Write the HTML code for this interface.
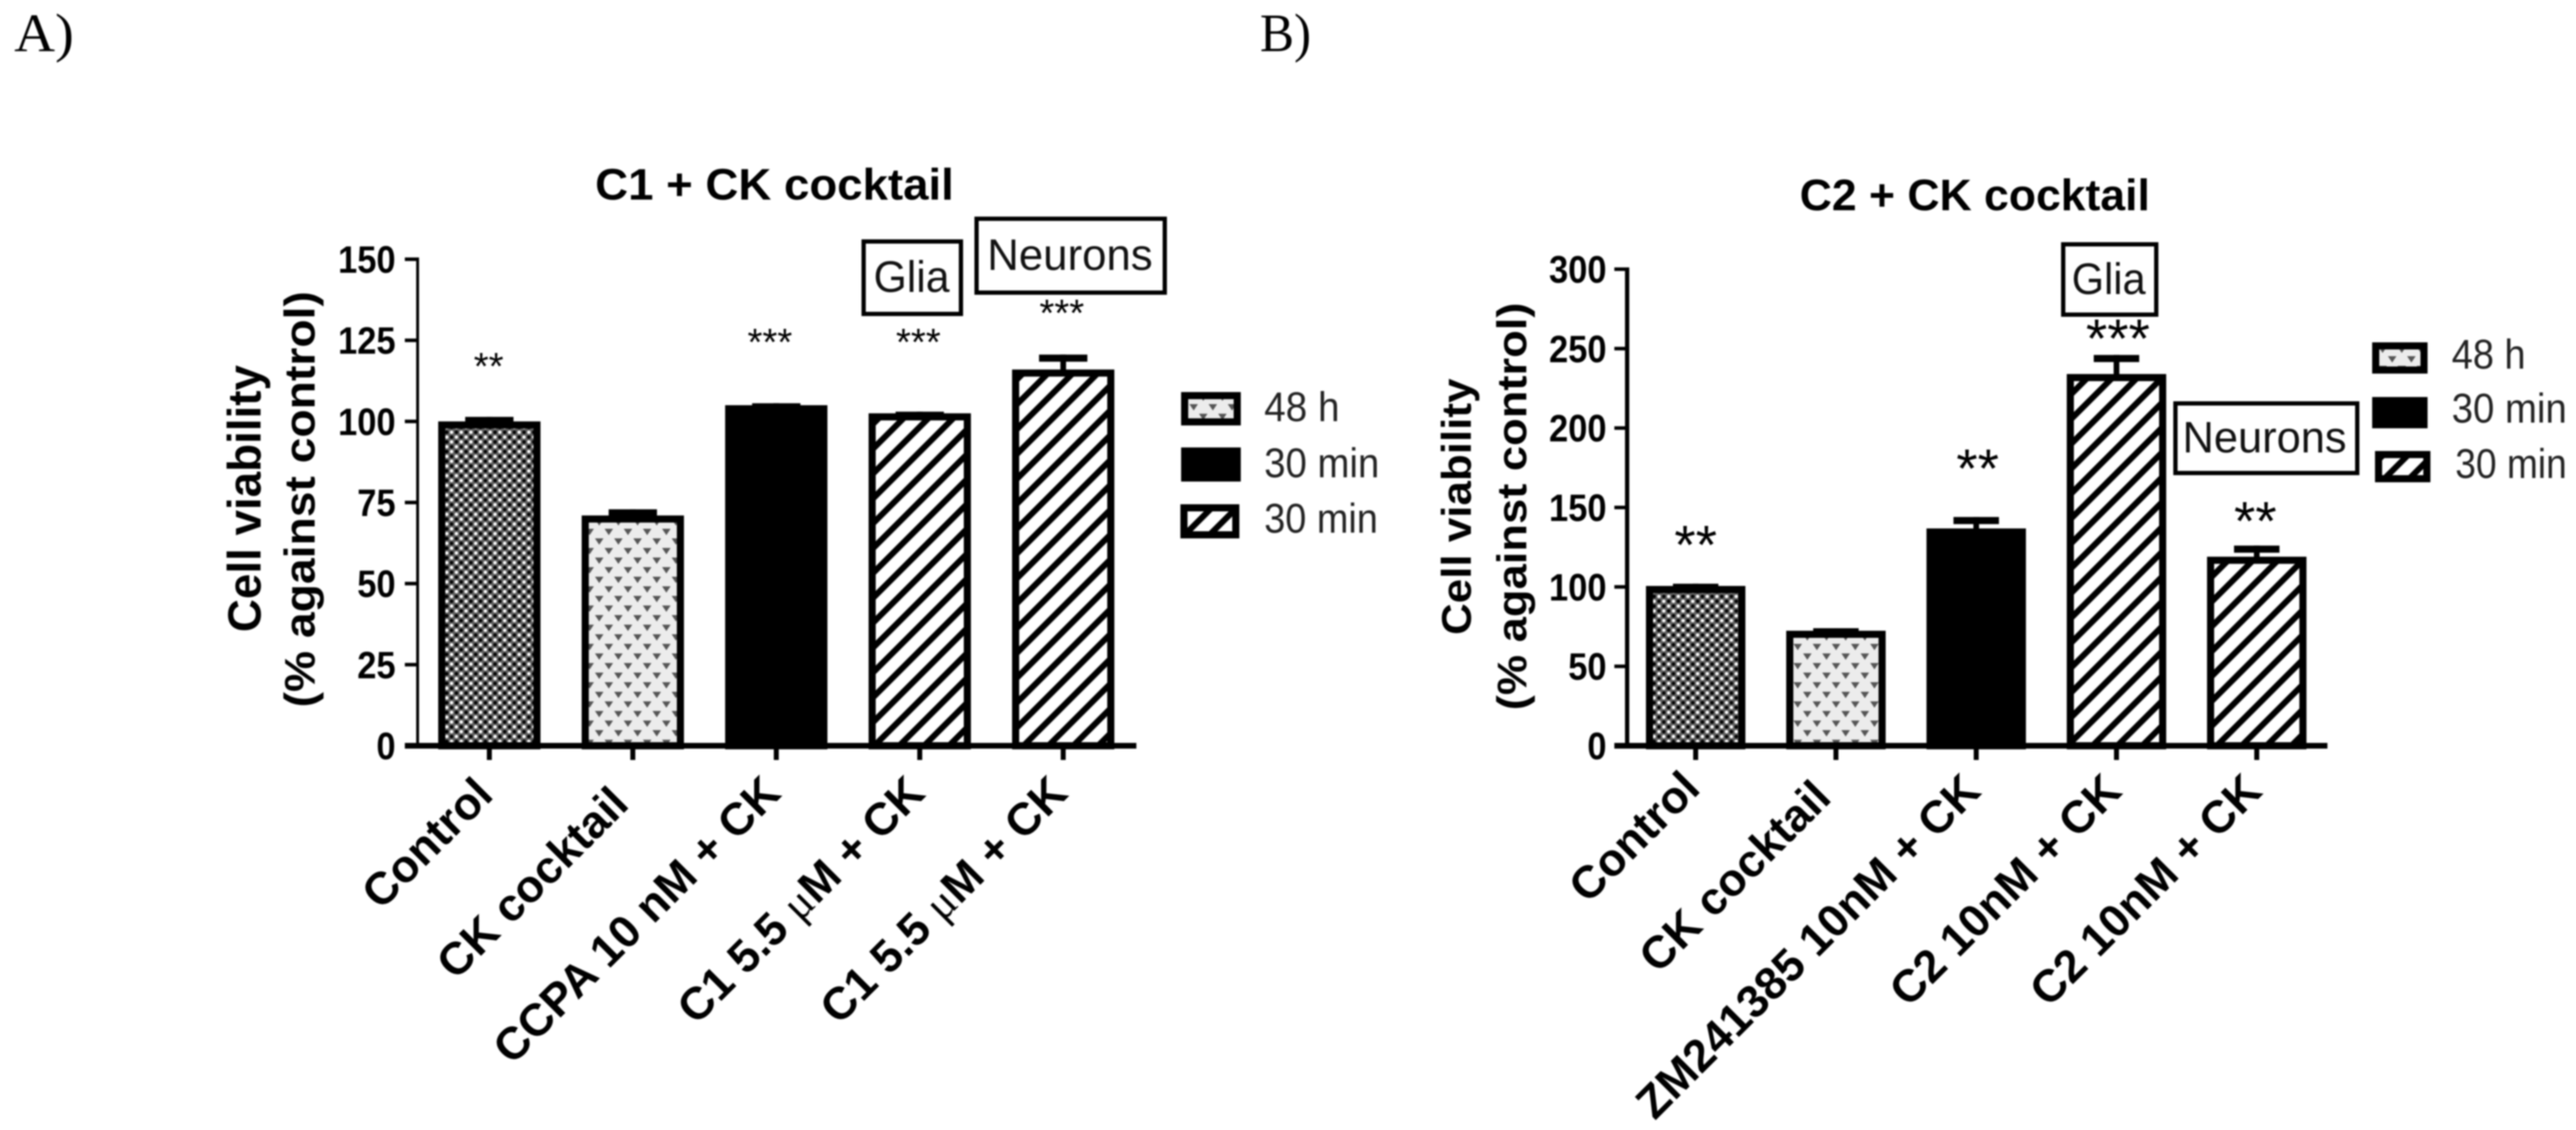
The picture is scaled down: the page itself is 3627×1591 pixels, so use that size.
<!DOCTYPE html>
<html lang="en">
<head>
<meta charset="utf-8">
<title>C1 and C2 + CK cocktail cell viability</title>
<style>
html,body{margin:0;padding:0;background:#fff;}
svg{display:block;filter:blur(1px);}
text{font-family:"Liberation Sans",Arial,sans-serif;fill:#000;}
.b{font-weight:bold;}
.serif{font-family:"Liberation Serif",serif;}
.leg{fill:#222;font-size:58px;}
.box{fill:#fff;stroke:#000;stroke-width:6;}
.boxt{fill:#111;font-size:62px;}
.swatch{stroke:#000;stroke-width:10;}
</style>
</head>
<body>
<svg id="figure" xmlns="http://www.w3.org/2000/svg" width="3627" height="1591" viewBox="0 0 3627 1591">
  <defs>
    <pattern id="dots" patternUnits="userSpaceOnUse" width="13.6" height="13.6">
      <rect width="13.6" height="13.6" fill="#606060"/>
      <circle cx="3.4" cy="3.4" r="2.4" fill="#fff"/>
      <circle cx="10.2" cy="10.2" r="2.4" fill="#fff"/>
      <circle cx="10.2" cy="3.4" r="2.5" fill="#000"/>
      <circle cx="3.4" cy="10.2" r="2.5" fill="#000"/>
    </pattern>
    <pattern id="hearts" patternUnits="userSpaceOnUse" width="27" height="27">
      <rect width="27" height="27" fill="#ececec"/>
      <path d="M0.7 2 L6.7 11 L12.7 2 Z" fill="#555"/>
      <path d="M14.2 15.5 L20.2 24.5 L26.2 15.5 Z" fill="#555"/>
    </pattern>
    <pattern id="stripes" patternUnits="userSpaceOnUse" width="24.75" height="24.75" patternTransform="rotate(45)">
      <rect width="24.75" height="24.75" fill="#fff"/>
      <rect width="8.5" height="24.75" fill="#000"/>
    </pattern>
  </defs>
  <rect width="3627" height="1591" fill="#fff"/>

  <text class="serif" x="20" y="72" font-size="76" textLength="84" lengthAdjust="spacingAndGlyphs">A)</text>
  <text class="serif" x="1774" y="72" font-size="76" textLength="72" lengthAdjust="spacingAndGlyphs">B)</text>

  <text class="b" x="838" y="281" font-size="62" textLength="505" lengthAdjust="spacingAndGlyphs">C1 + CK cocktail</text>
  <text class="b" x="2534" y="296" font-size="62" textLength="493" lengthAdjust="spacingAndGlyphs">C2 + CK cocktail</text>

  <text class="b" transform="translate(367 890) rotate(-90)" font-size="66" textLength="376" lengthAdjust="spacingAndGlyphs">Cell viability</text>
  <text class="b" transform="translate(443 996) rotate(-90)" font-size="60" textLength="586" lengthAdjust="spacingAndGlyphs">(% against control)</text>
  <text class="b" transform="translate(2071 894) rotate(-90)" font-size="58" textLength="361" lengthAdjust="spacingAndGlyphs">Cell viability</text>
  <text class="b" transform="translate(2149 1000) rotate(-90)" font-size="58" textLength="574" lengthAdjust="spacingAndGlyphs">(% against control)</text>

  <g id="chart-a"></g>
  <g id="chart-b"></g>

  <g>
    <rect class="box" x="1216" y="340" width="137" height="102"/>
    <text class="boxt" x="1230" y="411" textLength="107" lengthAdjust="spacingAndGlyphs">Glia</text>
  </g>
  <g>
    <rect class="box" x="1375" y="308" width="265" height="104"/>
    <text class="boxt" x="1390" y="380" textLength="233" lengthAdjust="spacingAndGlyphs">Neurons</text>
  </g>
  <g>
    <rect class="box" x="2905" y="344" width="131" height="99"/>
    <text class="boxt" x="2917" y="414" textLength="104" lengthAdjust="spacingAndGlyphs">Glia</text>
  </g>
  <g>
    <rect class="box" x="3063" y="568" width="256" height="98"/>
    <text class="boxt" x="3073" y="637" textLength="231" lengthAdjust="spacingAndGlyphs">Neurons</text>
  </g>

  <g>
    <g>
      <rect class="swatch" x="1668" y="557" width="74" height="37" fill="url(#hearts)"/>
      <text class="leg" x="1780" y="593" textLength="106" lengthAdjust="spacingAndGlyphs">48 h</text>
    </g>
    <g>
      <rect class="swatch" x="1668" y="635" width="74" height="38" fill="#000"/>
      <text class="leg" x="1780" y="672" textLength="162" lengthAdjust="spacingAndGlyphs">30 min</text>
    </g>
    <g>
      <rect class="swatch" x="1667" y="715" width="73" height="38" fill="url(#stripes)"/>
      <text class="leg" x="1780" y="750" textLength="160" lengthAdjust="spacingAndGlyphs">30 min</text>
    </g>
  </g>
  <g>
    <g>
      <rect class="swatch" x="3345" y="487" width="68" height="34" fill="url(#hearts)"/>
      <text class="leg" x="3452" y="519" textLength="104" lengthAdjust="spacingAndGlyphs">48 h</text>
    </g>
    <g>
      <rect class="swatch" x="3345" y="564" width="68" height="34" fill="#000"/>
      <text class="leg" x="3452" y="595" textLength="162" lengthAdjust="spacingAndGlyphs">30 min</text>
    </g>
    <g>
      <rect class="swatch" x="3349" y="640" width="68" height="34" fill="url(#stripes)"/>
      <text class="leg" x="3457" y="673" textLength="157" lengthAdjust="spacingAndGlyphs">30 min</text>
    </g>
  </g>
</svg>

<script>
// ---- Chart data ----
const chartACategories = ['Control', 'CK cocktail', 'CCPA 10 nM + CK', 'C1 5.5 \u03BCM + CK', 'C1 5.5 \u03BCM + CK'];
const chartAValues = [100, 71, 105, 102.5, 116];
const chartAErrors = [1.4, 1.9, 0.6, 0.5, 4.6];
const chartASignificance = ['**', '', '***', '***', '***'];
const chartASignificanceLevels = [116.5, 0, 124, 124, 133];
const chartAYTicks = [0, 25, 50, 75, 100, 125, 150];

const chartBCategories = ['Control', 'CK cocktail', 'ZM241385 10nM + CK', 'C2 10nM + CK', 'C2 10nM + CK'];
const chartBValues = [100.6, 72.4, 136.8, 234, 119];
const chartBErrors = [1.4, 1.6, 7.2, 12, 7];
const chartBSignificance = ['**', '', '**', '***', '**'];
const chartBSignificanceLevels = [125, 0, 173, 255, 140];
const chartBYTicks = [0, 50, 100, 150, 200, 250, 300];

const treatmentFills = ['url(#dots)', 'url(#hearts)', '#000', 'url(#stripes)', 'url(#stripes)'];

// ---- Drawing ----
const SVG_NS = 'http://www.w3.org/2000/svg';

function make(parent, tag, attrs, content) {
  const node = document.createElementNS(SVG_NS, tag);
  Object.keys(attrs).forEach(function (key) { node.setAttribute(key, attrs[key]); });
  if (content !== undefined) node.textContent = content;
  parent.appendChild(node);
  return node;
}

function drawChart(root, data, layout) {
  const yScale = function (v) { return layout.baseY - v * (layout.baseY - layout.topY) / layout.yMax; };
  const xScale = function (i) { return layout.x0 + i * layout.step; };

  data.yTicks.forEach(function (tick) {
    const y = yScale(tick);
    const tickMark = make(root, 'rect', { x: layout.axisLeft, y: y - 2.5, width: layout.axisX - layout.axisLeft, height: 5, fill: '#000' });
    
    
    const tickText = String(tick);
    const tickLabel = make(root, 'text', {
      x: layout.tickLabelX, y: y + 19, 'text-anchor': 'end', 'font-size': 54, 'font-weight': 'bold',
      textLength: tickText.length * 27, lengthAdjust: 'spacingAndGlyphs'
    }, tickText);
    
    
  });

  const yAxis = make(root, 'rect', { x: layout.axisX - layout.yAxisWidth / 2, y: yScale(data.yTicks[data.yTicks.length - 1]) - 2.5, width: layout.yAxisWidth, height: yScale(0) - yScale(data.yTicks[data.yTicks.length - 1]) + 2.5, fill: '#000' });
  
  

  data.values.forEach(function (value, i) {
    const cx = xScale(i);
    const top = yScale(value);
    const errTop = yScale(value + data.errors[i]);

    const stem = make(root, 'rect', { x: cx - 4, y: errTop, width: 8, height: top - errTop + 5, fill: '#000' });
    
    

    const cap = make(root, 'rect', { x: cx - layout.capWidth / 2, y: errTop, width: layout.capWidth, height: 10, fill: '#000' });
    
    

    const bar = make(root, 'rect', {
      x: cx - layout.barWidth / 2 + 5, y: top + 5,
      width: layout.barWidth - 10, height: Math.max(0, layout.baseY - top - 5),
      fill: treatmentFills[i], stroke: '#000', 'stroke-width': 10
    });
    
    

    const xTick = make(root, 'rect', { x: cx - 3.5, y: layout.baseY, width: 7, height: 20, fill: '#000' });
    
    

    const nudge = layout.labelNudge[i];
    const lx = cx + nudge[0];
    const ly = nudge[1];
    const label = make(root, 'text', { transform: 'translate(' + lx + ' ' + ly + ') rotate(-45)', 'text-anchor': 'end', 'font-size': layout.labelSize, 'font-weight': 'bold' });
    
    
    data.categories[i].split('\u03BC').forEach(function (part, p) {
      if (p > 0) {
        make(label, 'tspan', { 'font-family': '"Liberation Serif", serif', 'font-weight': 'normal' }, '\u03BC');
      }
      make(label, 'tspan', {}, part);
    });

    if (data.significance[i]) {
      const size = layout.starSize;
      const stars = make(root, 'text', { x: cx + layout.starNudge[i], y: yScale(data.significanceLevels[i]) + 0.3 * size, 'text-anchor': 'middle', 'font-size': size }, data.significance[i]);
      
      
    }
  });

  const xAxis = make(root, 'rect', { x: layout.axisLeft, y: layout.baseY - 4, width: layout.axisRight - layout.axisLeft, height: 8, fill: '#000' });
  
  
}

drawChart(document.getElementById('chart-a'), {
  categories: chartACategories,
  values: chartAValues,
  errors: chartAErrors,
  significance: chartASignificance,
  significanceLevels: chartASignificanceLevels,
  yTicks: chartAYTicks
}, {
  baseY: 1050, topY: 365, yMax: 150,
  x0: 689, step: 202,
  axisX: 588, yAxisWidth: 4, axisLeft: 570, axisRight: 1600,
  tickLabelX: 557, barWidth: 144, capWidth: 68,
  labelSize: 64, starSize: 54,
  labelNudge: [[8, 1122], [-3, 1135], [9, 1120], [10, 1120], [9, 1120]],
  starNudge: [-1, 0, -9, -2, -2]
});

drawChart(document.getElementById('chart-b'), {
  categories: chartBCategories,
  values: chartBValues,
  errors: chartBErrors,
  significance: chartBSignificance,
  significanceLevels: chartBSignificanceLevels,
  yTicks: chartBYTicks
}, {
  baseY: 1050, topY: 379, yMax: 300,
  x0: 2387.5, step: 197.5,
  axisX: 2291, yAxisWidth: 6, axisLeft: 2273, axisRight: 3277,
  tickLabelX: 2262, barWidth: 140, capWidth: 64,
  labelSize: 64, starSize: 77,
  labelNudge: [[9, 1113], [-4, 1126], [9, 1117], [10, 1117], [10, 1117]],
  starNudge: [0, 0, 2, 2, -2]
});
</script>
</body>
</html>
